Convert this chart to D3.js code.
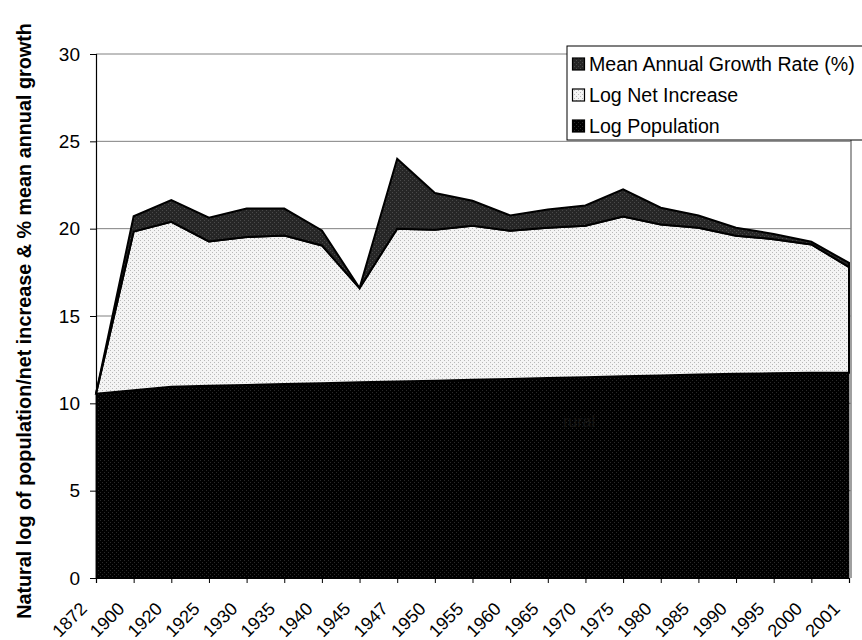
<!DOCTYPE html>
<html><head><meta charset="utf-8">
<script src="https://cdn.jsdelivr.net/npm/d3@7"></script>
<style>body{margin:0;background:#fff}svg{display:block;font-family:"Liberation Sans",Arial,sans-serif}</style>
</head><body><svg id="c" width="862" height="640"></svg>
<script>
const years = ["1872","1900","1920","1925","1930","1935","1940","1945","1947","1950","1955","1960","1965","1970","1975","1980","1985","1990","1995","2000","2001"];
const logPopulation = [10.55,10.75,10.95,11.0,11.05,11.1,11.15,11.2,11.25,11.3,11.35,11.4,11.45,11.5,11.55,11.6,11.65,11.7,11.72,11.75,11.75];
const logNetIncrease = [0,9.09,9.44,8.27,8.47,8.51,7.89,5.4,8.75,8.64,8.82,8.48,8.6,8.67,9.15,8.64,8.4,7.9,7.68,7.35,6.05];
const growthRate = [0,0.87,1.24,1.36,1.63,1.54,0.86,0,4.0,2.1,1.43,0.88,1.05,1.16,1.55,0.96,0.7,0.45,0.3,0.15,0.24];
const yTicks = [0,5,10,15,20,25,30];
const seriesNames = ["Log Population","Log Net Increase","Mean Annual Growth Rate (%)"];

const svg = d3.select("#c");
const L=96,R=849,T=54,B=578;
const x = d3.scalePoint().domain(years).range([L,R]);
const y = d3.scaleLinear().domain([0,30]).range([B,T]);

const defs = svg.append("defs");
function pat(id,bg,dot){
  const p=defs.append("pattern").attr("id",id).attr("width",4).attr("height",4).attr("patternUnits","userSpaceOnUse");
  p.append("rect").attr("width",4).attr("height",4).attr("fill",bg);
  p.append("rect").attr("x",0).attr("y",0).attr("width",1).attr("height",1).attr("fill",dot);
  p.append("rect").attr("x",2).attr("y",2).attr("width",1).attr("height",1).attr("fill",dot);
}
pat("pPop","#000","#2a2a2a");
pat("pNet","#f4f4f4","#b8b8b8");
pat("pGr","#262626","#4a4a4a");
const fills=["url(#pPop)","url(#pNet)","url(#pGr)"];

// gridlines
svg.append("g").selectAll("line").data(yTicks.filter(d=>d>0)).join("line")
  .attr("x1",L).attr("x2",R+2).attr("y1",d=>y(d)).attr("y2",d=>y(d))
  .attr("stroke","#808080").attr("stroke-width",1);
// plot right border
svg.append("line").attr("x1",R+2).attr("x2",R+2).attr("y1",T).attr("y2",B).attr("stroke","#808080").attr("stroke-width",1.5);

const table = years.map((yr,i)=>({year:yr,p:logPopulation[i],n:logNetIncrease[i],g:growthRate[i]}));
const stack = d3.stack().keys(["p","n","g"])(table);
const area = d3.area().x(d=>x(d.data.year)).y0(d=>y(d[0])).y1(d=>y(d[1]));
svg.append("g").selectAll("path").data(stack).join("path")
  .attr("d",area).attr("fill",(d,i)=>fills[i])
  .attr("stroke","#000").attr("stroke-width",(d,i)=>i===0?0.8:2).attr("stroke-linejoin","miter");

svg.append("text").attr("x",563).attr("y",427).attr("font-size",16).attr("fill","#141414").text("rural");

// y axis
const ya = svg.append("g").attr("transform",`translate(${L},0)`)
  .call(d3.axisLeft(y).tickValues(yTicks).tickSize(6).tickPadding(10));
ya.select(".domain").attr("stroke","#000").attr("stroke-width",1.2);
ya.selectAll("text").attr("font-size",19).attr("font-family","Liberation Sans, Arial, sans-serif").attr("fill","#000");

// x axis
const xa = svg.append("g").attr("transform",`translate(0,${B})`)
  .call(d3.axisBottom(x).tickSize(5).tickFormat(()=>""));
xa.select(".domain").attr("stroke","#000").attr("stroke-width",1.2);
svg.append("g").selectAll("text").data(years).join("text")
  .attr("transform",d=>`translate(${x(d)-8},${B+32}) rotate(-45)`)
  .attr("text-anchor","end").attr("font-size",18).attr("fill","#000").text(d=>d);

// y title
svg.append("text").attr("transform",`translate(31,321) rotate(-90)`).attr("text-anchor","middle")
  .attr("font-size",19.8).attr("font-weight","bold").text("Natural log of population/net increase & % mean annual growth");

// legend
const lg = svg.append("g");
lg.append("rect").attr("x",567).attr("y",46).attr("width",300).attr("height",94).attr("fill","#fff").attr("stroke","#000").attr("stroke-width",1);
const legendItems=[2,1,0];
legendItems.forEach((k,i)=>{
  const yy=71+i*31;
  lg.append("rect").attr("x",572.5).attr("y",yy-13).attr("width",12).attr("height",12).attr("fill",fills[k]).attr("stroke","#000").attr("stroke-width",1.2);
  lg.append("text").attr("x",589).attr("y",yy).attr("font-size",19.6).text(seriesNames[k]);
});
</script></body></html>
